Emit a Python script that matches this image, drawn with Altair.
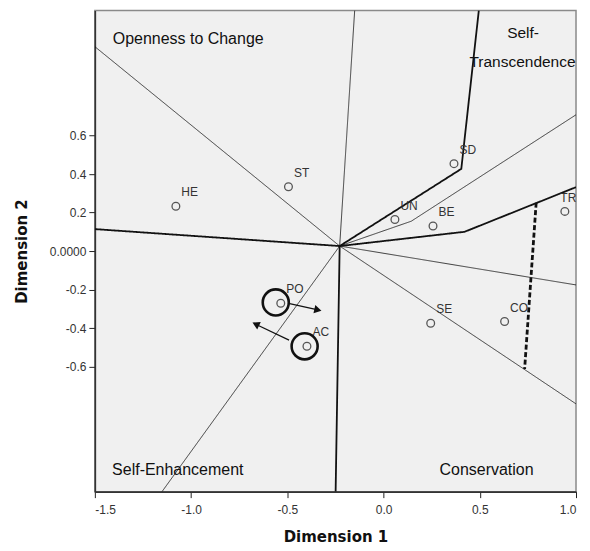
import altair as alt
import pandas as pd

# ---- data ----
pt_labels = ["HE", "ST", "SD", "UN", "BE", "TR", "PO", "AC", "SE", "CO"]
pt_x = [-1.079, -0.494, 0.366, 0.059, 0.257, 0.942, -0.534, -0.398, 0.245, 0.629]
pt_y = [0.233, 0.334, 0.454, 0.164, 0.130, 0.206, -0.271, -0.495, -0.375, -0.366]
pt_side = ["r", "r", "r", "r", "r", "l", "r", "r", "r", "r"]

center = (-0.228, 0.026)

# thin partition lines (polylines starting at the centre)
thin_lines = {
    "a": [center, (-1.5, 1.062)],
    "b": [center, (-0.150, 1.25)],
    "c": [center, (0.144, 0.155), (1.0, 0.708)],
    "d": [center, (1.0, -0.176)],
    "e": [center, (1.0, -0.794)],
    "f": [center, (-1.151, -1.25)],
}
# thick region boundaries
thick_lines = {
    "T1": [(-1.5, 0.114), center],
    "T2": [center, (-0.249, -1.25)],
    "T3": [center, (0.404, 0.427), (0.495, 1.25)],
    "T4": [center, (0.421, 0.100), (1.0, 0.332)],
}
dashed_lines = {"D1": [(0.793, 0.251), (0.733, -0.613)]}

region_text = ["Openness to Change", "Self-", "Transcendence", "Self-Enhancement", "Conservation"]
region_x = [-1.015, 0.725, 0.722, -1.069, 0.535]
region_y = [1.102, 1.133, 0.984, -1.136, -1.140]
region_size = [16, 15.5, 15.5, 16, 16]

ring_x = [-0.560, -0.410]
ring_y = [-0.267, -0.495]

arrow_x0 = [-0.488, -0.491]
arrow_y0 = [-0.273, -0.463]
arrow_x1 = [-0.341, -0.664]
arrow_y1 = [-0.306, -0.380]
arrow_angle = [12.7, 205.7]

x_ticks = [-1.5, -1.0, -0.5, 0.0, 0.5, 1.0]
y_ticks = [-0.6, -0.4, -0.2, 0.0, 0.2, 0.4, 0.6]

# ---- tables ----
rows = []
for kind, group in (("thin", thin_lines), ("thick", thick_lines), ("dash", dashed_lines)):
    for lid, pts in group.items():
        for i, (x, y) in enumerate(pts):
            rows.append({"id": lid, "kind": kind, "o": i, "x": x, "y": y})
lines_df = pd.DataFrame(rows)

pts_df = pd.DataFrame({"label": pt_labels, "x": pt_x, "y": pt_y, "side": pt_side})
reg_df = pd.DataFrame({"t": region_text, "x": region_x, "y": region_y, "s": region_size})
ring_df = pd.DataFrame({"x": ring_x, "y": ring_y})
arr_rows = []
for i in range(len(arrow_x0)):
    arr_rows.append({"id": i, "o": 0, "x": arrow_x0[i], "y": arrow_y0[i]})
    arr_rows.append({"id": i, "o": 1, "x": arrow_x1[i], "y": arrow_y1[i]})
arr_df = pd.DataFrame(arr_rows)
head_df = pd.DataFrame({"x": arrow_x1, "y": arrow_y1, "ang": arrow_angle})

lab_expr = "datum.value == 0 ? '{z}' : replace(format(datum.value, '.1f'), '\u2212', '-')"

def X():
    return alt.X("x:Q", scale=alt.Scale(domain=[-1.5, 1.0], nice=False, zero=False),
                 axis=alt.Axis(values=x_ticks, title="Dimension 1", labelExpr=lab_expr.format(z="0.0"),
                               grid=False, tickSize=6, tickColor="#222", domainColor="#333",
                               domainWidth=1.6, labelFont="Liberation Sans", labelFontSize=12,
                               labelColor="#333", labelPadding=7,
                               titleFont="DejaVu Sans", titleFontSize=15, titleFontWeight="bold",
                               titleColor="#111", titlePadding=14))

def Y():
    return alt.Y("y:Q", scale=alt.Scale(domain=[-1.25, 1.25], nice=False, zero=False),
                 axis=alt.Axis(values=y_ticks, title="Dimension 2", labelExpr=lab_expr.format(z="0.0000"),
                               grid=False, tickSize=6, tickColor="#222", domainColor="#333",
                               domainWidth=1.6, labelFont="Liberation Sans", labelFontSize=12,
                               labelColor="#333", labelPadding=3,
                               titleFont="DejaVu Sans", titleFontSize=15, titleFontWeight="bold",
                               titleColor="#111", titlePadding=20))

lines = alt.Chart(lines_df).mark_line(clip=True, color="#111").encode(
    x=X(), y=Y(), detail="id:N", order="o:Q",
    strokeWidth=alt.StrokeWidth("kind:N", scale=alt.Scale(domain=["thin", "thick", "dash"], range=[0.8, 2.8, 1.2]), legend=None),
    strokeDash=alt.StrokeDash("kind:N", scale=alt.Scale(domain=["thin", "thick", "dash"], range=[[1, 0], [1, 0], [5, 2.5]]), legend=None),
)

points = alt.Chart(pts_df).mark_point(shape="circle", size=60, color="#555", strokeWidth=1.3,
                                      filled=False, opacity=1).encode(x=X(), y=Y())
labels_r = alt.Chart(pts_df).transform_filter("datum.side == 'r'").mark_text(
    align="left", baseline="middle", dx=5.5, dy=-14, font="Liberation Sans",
    fontSize=12, color="#333").encode(x=X(), y=Y(), text="label:N")
labels_l = alt.Chart(pts_df).transform_filter("datum.side == 'l'").mark_text(
    align="left", baseline="middle", dx=-4.5, dy=-13, font="Liberation Sans",
    fontSize=12, color="#333").encode(x=X(), y=Y(), text="label:N")
regions = alt.Chart(reg_df).mark_text(align="center", baseline="middle",
                                      font="Liberation Sans", color="#111").encode(
    x=X(), y=Y(), text="t:N", size=alt.Size("s:Q", scale=None))
rings = alt.Chart(ring_df).mark_point(shape="circle", size=680, color="#111", strokeWidth=2.6,
                                      filled=False, opacity=1).encode(x=X(), y=Y())
arrows = alt.Chart(arr_df).mark_line(color="#111", strokeWidth=1.2).encode(x=X(), y=Y(), detail="id:N", order="o:Q")
heads = alt.Chart(head_df).mark_point(shape="triangle-right", size=70, filled=True, color="#111", opacity=1).encode(
    x=X(), y=Y(), angle=alt.Angle("ang:Q", scale=None))

chart = alt.layer(lines, points, labels_r, labels_l, regions, rings, arrows, heads).properties(
    width=482, height=482,
    autosize=alt.AutoSizeParams(type="none"),
    padding={"left": 87, "top": 2, "right": 6, "bottom": 56},
    background="white",
).configure_view(fill="#F0F0F0", stroke="#8a8a8a", strokeWidth=1.5)

chart.save("out.html", embed_options={"renderer": "svg", "actions": False})
